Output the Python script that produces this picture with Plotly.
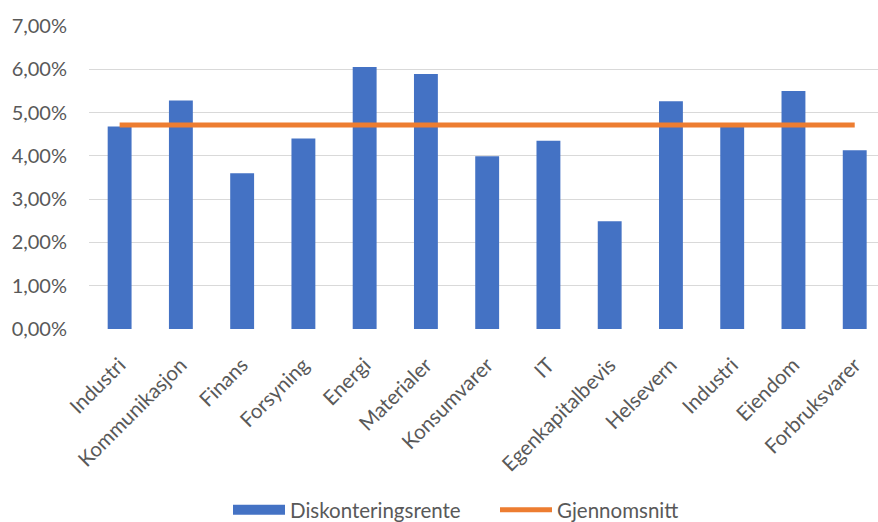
import plotly.graph_objects as go

categories = ["Industri", "Kommunikasjon", "Finans", "Forsyning", "Energi", "Materialer",
              "Konsumvarer", "IT", "Egenkapitalbevis", "Helsevern", "Industri", "Eiendom",
              "Forbruksvarer"]
diskonteringsrente = [0.0468, 0.0528, 0.0360, 0.0440, 0.0605, 0.0589, 0.0399, 0.0435,
                      0.0249, 0.0526, 0.0467, 0.0550, 0.0413]
gjennomsnitt = [0.0471] * len(categories)
y_ticks = [0, 0.01, 0.02, 0.03, 0.04, 0.05, 0.06, 0.07]

xpos = list(range(len(categories)))
BLUE = "#4472C4"
ORANGE = "#ED7D31"
GREY = "#595959"
FONT = "Lato"

fig = go.Figure()
fig.add_trace(go.Bar(x=xpos, y=diskonteringsrente, name="Diskonteringsrente",
                     marker=dict(color=BLUE, line=dict(width=0)), width=0.39,
                     showlegend=False))
fig.add_trace(go.Scatter(x=[None], y=[None], mode="lines", name="Diskonteringsrente",
                         line=dict(color=BLUE, width=12), showlegend=True))
fig.add_trace(go.Scatter(x=xpos, y=gjennomsnitt, mode="lines", name="Gjennomsnitt",
                         line=dict(color=ORANGE, width=5)))

fig.update_layout(
    width=878, height=522,
    margin=dict(l=89, r=0, t=26, b=193, autoexpand=False),
    paper_bgcolor="white", plot_bgcolor="white",
    separators=", ",
    font=dict(family=FONT, size=20, color=GREY),
    showlegend=True,
    legend=dict(orientation="h", x=(228 - 89) / 789, xanchor="left",
                y=-(490 - 329) / 303, yanchor="top",
                itemwidth=52, entrywidth=200, entrywidthmode="pixels",
                font=dict(family=FONT, size=20.5, color=GREY),
                bgcolor="rgba(0,0,0,0)", tracegroupgap=0),
    xaxis=dict(range=[-0.5, 12.38], tickmode="array", tickvals=xpos, ticktext=categories,
               tickangle=-45, showgrid=False, zeroline=False, showline=False,
               ticks="outside", ticklen=15, tickcolor="rgba(0,0,0,0)",
               tickfont=dict(family=FONT, size=20.5, color=GREY), automargin=False),
    yaxis=dict(range=[0, 0.07], tickmode="array", tickvals=y_ticks, tickformat=".2%",
               showgrid=True, gridcolor="#D9D9D9", gridwidth=1.3, zeroline=False,
               showline=False, ticks="outside", ticklen=17, tickcolor="rgba(0,0,0,0)",
               tickfont=dict(family=FONT, size=20, color=GREY), automargin=False),
)

fig.write_html("out.html")
